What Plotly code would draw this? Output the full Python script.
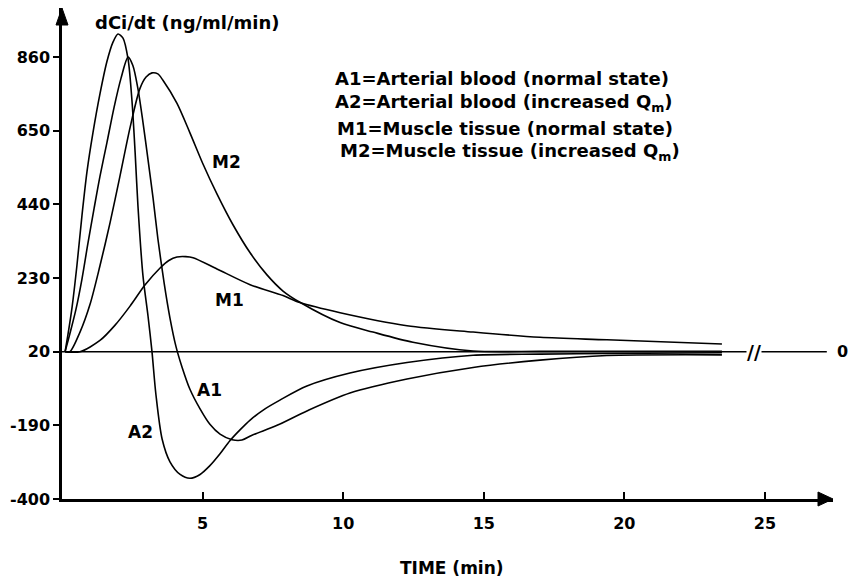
import plotly.graph_objects as go

# ---------------- data ----------------
TIME_A1 = [0.11, 0.28, 0.50, 0.71, 0.92, 1.14, 1.35, 1.60, 1.85, 2.10, 2.35, 2.52, 2.70, 2.88,
           3.06, 3.24, 3.41, 3.63, 3.84, 4.05, 4.27, 4.55, 4.91, 5.26, 5.62, 6.05, 6.40, 6.76,
           7.65, 8.71, 10.24, 12.27, 14.62, 17.0, 19.38, 23.47]
A1 = [20, 71, 142, 227, 328, 428, 520, 617, 716, 800, 860, 836, 770, 674,
      567, 457, 342, 217, 116, 36, -24, -87, -143, -187, -215, -231, -232, -218,
      -190, -149, -98, -58, -25, -4, 9, 11]

TIME_A2 = [0.11, 0.21, 0.36, 0.53, 0.71, 0.89, 1.10, 1.35, 1.60, 1.81, 1.99, 2.17, 2.35, 2.49,
           2.60, 2.70, 2.88, 3.06, 3.20, 3.34, 3.56, 3.84, 4.20, 4.55, 4.91, 5.26, 5.62, 5.97,
           6.33, 6.69, 7.22, 7.75, 8.71, 10.24, 12.27, 14.62, 17.0, 19.38, 23.47]
A2 = [20, 68, 148, 265, 408, 534, 644, 755, 848, 902, 926, 914, 854, 734,
      589, 437, 236, 121, 20, -102, -229, -294, -330, -341, -330, -305, -271, -234,
      -203, -175, -143, -118, -78, -41, -11, 10, 13, 15, 17]

TIME_M1 = [0.11, 0.64, 1.35, 1.88, 2.42, 2.95, 3.48, 3.80, 4.09, 4.40, 4.66, 5.51, 6.69, 7.86,
           8.46, 9.89, 12.27, 14.62, 17.0, 19.38, 23.47]
M1 = [20, 20, 52, 95, 150, 210, 258, 280, 290, 291, 288, 256, 211, 180,
      160, 131, 94, 76, 61, 54, 42]

TIME_M2 = [0.11, 0.28, 0.64, 1.00, 1.35, 1.71, 2.06, 2.42, 2.77, 2.99, 3.20, 3.41, 3.59, 4.09,
           4.55, 5.01, 5.51, 6.08, 6.69, 7.29, 7.86, 8.46, 9.89, 11.06, 12.48, 14.62, 17.0,
           19.38, 23.47]
M2 = [20, 20, 76, 156, 265, 388, 520, 659, 770, 803, 815, 812, 794, 728,
      644, 556, 470, 382, 302, 239, 193, 161, 103, 76, 47, 22, 21,
      21, 21]

BASELINE_TIME = [0, 27.2]
BASELINE_VALUE = [20, 20]

X_TICKS = [5, 10, 15, 20, 25]
Y_TICKS = [860, 650, 440, 230, 20, -190, -400]
Y_TICK_LABELS = ["860", "650", "440", "230", "20", "-190", "-400"]

LEGEND_LINES = [
    "A1=Arterial blood (normal state)",
    "A2=Arterial blood (increased Q<sub>m</sub>)",
    "M1=Muscle tissue (normal state)",
    "M2=Muscle tissue (increased Q<sub>m</sub>)",
]

# ---------------- layout geometry ----------------
W, H = 851, 581
L, R, T, B = 62, 18, 8, 82
PW, PH = W - L - R, H - T - B
X_RANGE = [0, 27.42]
Y_RANGE = [-400, 1000]
FONT = "DejaVu Sans"


def pxx(px):
    return (px - L) / PW


def pxy(py):
    return (H - B - py) / PH


fig = go.Figure()
fig.add_trace(go.Scatter(x=BASELINE_TIME, y=BASELINE_VALUE, mode="lines",
                         line=dict(color="black", width=1.5), hoverinfo="skip"))
line_style = dict(color="black", width=1.6, shape="spline", smoothing=0.8)
for name, t, v in [("A1", TIME_A1, A1), ("A2", TIME_A2, A2), ("M1", TIME_M1, M1), ("M2", TIME_M2, M2)]:
    fig.add_trace(go.Scatter(x=t, y=v, mode="lines", name=name, line=line_style))

fig.update_layout(
    width=W, height=H,
    margin=dict(l=L, r=R, t=T, b=B),
    plot_bgcolor="white", paper_bgcolor="white",
    showlegend=False,
    font=dict(family=FONT, size=17, color="black", weight="bold"),
)
fig.update_xaxes(range=X_RANGE, tickvals=X_TICKS, ticks="inside", ticklen=7, tickwidth=1.5,
                 tickcolor="black", showline=True, linewidth=2.5, linecolor="black",
                 showgrid=False, zeroline=False, ticklabelstandoff=8,
                 tickfont=dict(family=FONT, size=16, color="black", weight="bold"))
fig.update_yaxes(range=Y_RANGE, tickvals=Y_TICKS, ticktext=Y_TICK_LABELS, ticks="outside",
                 ticklen=6, tickwidth=1.5, tickcolor="black", showline=True, linewidth=2.5,
                 linecolor="black", showgrid=False, zeroline=False,
                 tickfont=dict(family=FONT, size=16, color="black", weight="bold"))

# arrow heads on the axes
fig.add_shape(type="path", xref="paper", yref="paper", xsizemode="pixel", ysizemode="pixel",
              xanchor=0, yanchor=1, path="M0,0 L-6,-17 L6,-17 Z",
              fillcolor="black", line=dict(color="black", width=1))
fig.add_shape(type="path", xref="paper", yref="paper", xsizemode="pixel", ysizemode="pixel",
              xanchor=1, yanchor=0, path="M0,0 L-15,7 L-15,-7 Z",
              fillcolor="black", line=dict(color="black", width=1))

ann = []
ann.append(dict(text="dCi/dt (ng/ml/min)", x=pxx(187), y=pxy(22), xref="paper", yref="paper",
                showarrow=False, xanchor="center", yanchor="middle", font=dict(size=18)))
leg_pos = [(333, 78), (333, 103), (335, 128), (338, 152)]
for txt, (px, py) in zip(LEGEND_LINES, leg_pos):
    ann.append(dict(text=txt, x=pxx(px), y=pxy(py), xref="paper", yref="paper", showarrow=False,
                    xanchor="left", yanchor="middle", font=dict(size=18)))
for txt, (px, py) in [("M2", (226, 162)), ("M1", (229, 300)), ("A1", (209, 390)), ("A2", (140, 432))]:
    ann.append(dict(text=txt, x=pxx(px), y=pxy(py), xref="paper", yref="paper", showarrow=False,
                    xanchor="center", yanchor="middle", font=dict(size=17)))
ann.append(dict(text="//", x=pxx(754), y=20, xref="paper", yref="y", showarrow=False,
                xanchor="center", yanchor="middle", bgcolor="white", borderpad=0,
                font=dict(size=19)))
ann.append(dict(text="0", x=pxx(842), y=20, xref="paper", yref="y", showarrow=False,
                xanchor="center", yanchor="middle", font=dict(size=16)))
ann.append(dict(text="TIME (min)", x=pxx(452), y=pxy(568), xref="paper", yref="paper",
                showarrow=False, xanchor="center", yanchor="middle", font=dict(size=17)))
fig.update_layout(annotations=ann)

fig.write_html("out.html")
